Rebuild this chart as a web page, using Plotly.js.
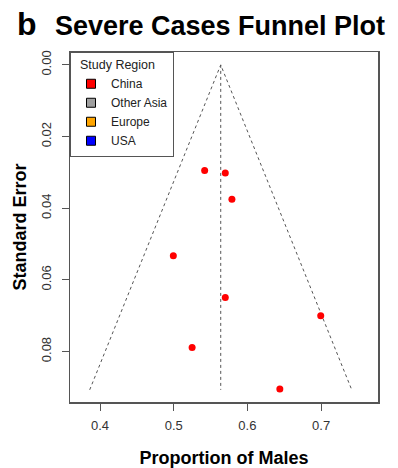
<!DOCTYPE html>
<html>
<head>
<meta charset="utf-8">
<script src="https://cdn.plot.ly/plotly-3.0.1.min.js"></script>
<style>
html,body{margin:0;padding:0;background:#fff;}
#chart{width:398px;height:468px;}
</style>
</head>
<body>
<div id="chart"></div>
<script>
// Data
const proportionMales = [0.542, 0.570, 0.579, 0.4995, 0.570, 0.6995, 0.525, 0.644];
const standardError   = [0.0295, 0.0302, 0.0375, 0.0533, 0.0649, 0.0700, 0.0789, 0.0905];
const pooledEstimate = 0.5638;
const funnelMaxSE = 0.0907;
const zCrit = 1.96;
const regions = ["China", "Other Asia", "Europe", "USA"];
const regionColors = ["#ff0000", "#a0a0a0", "#ffa500", "#0000ff"];
const xTicks = [0.4, 0.5, 0.6, 0.7];
const yTicks = [0.00, 0.02, 0.04, 0.06, 0.08];

const funnelX = [pooledEstimate - zCrit * funnelMaxSE, pooledEstimate, pooledEstimate + zCrit * funnelMaxSE];
const funnelY = [funnelMaxSE, 0, funnelMaxSE];

const traces = [
  {
    x: funnelX, y: funnelY, type: 'scatter', mode: 'lines',
    line: {color: '#555', width: 1, dash: 'dot'},
    showlegend: false, hoverinfo: 'skip'
  },
  {
    x: [pooledEstimate, pooledEstimate], y: [0, funnelMaxSE], type: 'scatter', mode: 'lines',
    line: {color: '#555', width: 1, dash: 'dot'},
    showlegend: false, hoverinfo: 'skip'
  },
  {
    x: proportionMales, y: standardError, type: 'scatter', mode: 'markers',
    marker: {color: regionColors[0], size: 7, line: {width: 0}},
    showlegend: false
  }
];
regions.forEach((r, i) => {
  traces.push({
    x: [null], y: [null], type: 'scatter', mode: 'markers', name: r,
    marker: {symbol: 'square', color: regionColors[i], size: 9, line: {color: '#000', width: 1}},
    showlegend: true
  });
});

const layout = {
  width: 398, height: 468,
  margin: {l: 70, r: 20, t: 52, b: 66, pad: 0},
  paper_bgcolor: '#fff', plot_bgcolor: '#fff',
  font: {family: 'Liberation Sans, Arial, sans-serif', color: '#222'},
  title: {
    text: '<b>Severe Cases Funnel Plot</b>',
    font: {size: 27, color: '#000', family: 'Liberation Sans, Arial, sans-serif'},
    x: 220/398, xanchor: 'center', xref: 'container',
    y: 1 - 26/468, yanchor: 'middle', yref: 'container'
  },
  annotations: [{
    text: '<b>b</b>', xref: 'paper', yref: 'paper',
    x: (27 - 70) / 308, y: 1 + (52 - 24) / 350, xanchor: 'center', yanchor: 'middle',
    showarrow: false, font: {size: 32, color: '#000'}
  }],
  xaxis: {
    range: [0.3593, 0.7772], tickvals: xTicks, ticktext: xTicks.map(v => v.toFixed(1)),
    showgrid: false, zeroline: false, showline: true, mirror: true,
    linecolor: '#555', linewidth: 1.5,
    ticks: 'outside', ticklen: 7, tickcolor: '#555', tickwidth: 1,
    ticklabelstandoff: 4,
    tickfont: {size: 13, color: '#333'},
    title: {text: '<b>Proportion of Males</b>', font: {size: 18, color: '#000'}, standoff: 20}
  },
  yaxis: {
    range: [0.0941, -0.0036], tickvals: yTicks, ticktext: yTicks.map(v => v.toFixed(2)),
    showgrid: false, zeroline: false, showline: true, mirror: true,
    linecolor: '#555', linewidth: 1.5,
    ticks: 'outside', ticklen: 7, tickcolor: '#555', tickwidth: 1,
    tickangle: -90, ticklabelstandoff: 5,
    tickfont: {size: 13, color: '#333'},
    title: {text: '<b>Standard Error</b>', font: {size: 18, color: '#000'}, standoff: 8}
  },
  legend: {
    x: 0, y: 1, xanchor: 'left', yanchor: 'top',
    bgcolor: '#fff', bordercolor: '#555', borderwidth: 1,
    font: {size: 12, color: '#222'},
    title: {text: '&nbsp;&nbsp;Study Region', font: {size: 12.5, color: '#222'}},
    tracegroupgap: 0, itemwidth: 30
  },
  showlegend: true
};

Plotly.newPlot('chart', traces, layout, {displayModeBar: false, staticPlot: true});
</script>
</body>
</html>
